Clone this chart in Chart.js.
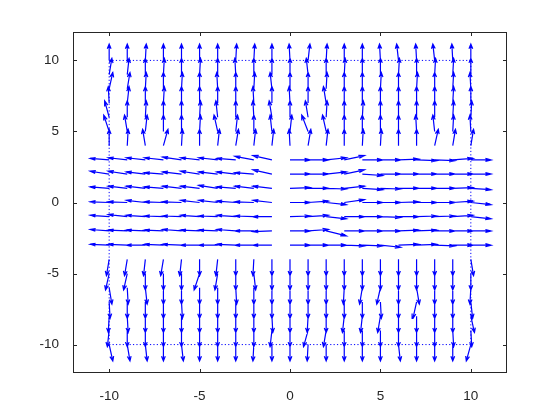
<!DOCTYPE html>
<html>
<head>
<meta charset="utf-8">
<script src="https://cdn.jsdelivr.net/npm/chart.js@4.4.1/dist/chart.umd.min.js"></script>
<style>
  html, body { margin: 0; padding: 0; background: #fff; }
  #wrap { width: 560px; height: 420px; }
</style>
</head>
<body>
<div id="wrap"><canvas id="quiver" width="560" height="420"></canvas></div>
<script>
// grid of arrow tails
const xs = [-10, -9, -8, -7, -6, -5, -4, -3, -2, -1, 0, 1, 2, 3, 4, 5, 6, 7, 8, 9, 10];
const ys = [10, 9, 8, 7, 6, 5, 4, 3, 2, 1, 0, -1, -2, -3, -4, -5, -6, -7, -8, -9, -10];

// x components, one row per y (top to bottom)
const U = [
  [0, 0, 0.05, 0, 0, 0, 0, 0.05, 0.05, 0, -0.05, 0.1, 0.05, 0, 0, -0.05, -0.1, -0.05, -0.1, -0.05, 0],
  [0.15, 0.1, 0, 0.05, 0, 0.05, 0, -0.05, 0, 0, 0, -0.1, 0, 0.05, 0, 0, 0.05, 0, 0.05, 0.05, 0],
  [0.2, 0.15, 0.05, 0, 0.05, 0, -0.05, 0, 0.05, -0.1, 0, 0, 0.05, 0, 0, 0.05, 0, 0.05, 0, 0.05, -0.05],
  [-0.05, 0.1, 0, 0.05, 0, 0, 0, 0, -0.05, 0, -0.05, 0, -0.15, 0, 0, 0, 0, 0, 0, 0.05, 0],
  [-0.25, 0, 0.05, 0, 0, 0.05, -0.1, 0, -0.05, -0.15, 0, -0.15, 0.05, 0, 0.05, 0, 0, 0, 0, 0.05, 0.05],
  [-0.3, -0.15, 0.1, 0, 0, 0.05, -0.2, 0.1, 0, -0.1, 0.1, -0.35, -0.2, 0, 0, 0, 0, -0.05, -0.1, 0.05, -0.05],
  [0, 0.05, -0.15, 0.25, 0.05, 0, 0.1, 0.15, 0.1, 0.1, -0.05, 0.15, 0.1, 0, 0.05, 0.05, 0, 0, 0.2, 0.15, 0.15],
  [-1.05, -1.05, -1.05, -1.05, -1.05, -1.05, -1.05, -1.05, -1.05, -1.05, 1.12, 1.12, 1.12, 1.12, 1.12, 1.12, 1.12, 1.12, 1.12, 1.12, 1.12],
  [-1.05, -1.05, -1.05, -1.05, -1.05, -1.05, -1.05, -1.05, -1.05, -1.05, 1.12, 1.12, 1.12, 1.12, 1.12, 1.12, 1.12, 1.12, 1.12, 1.12, 1.12],
  [-1.05, -1.05, -1.05, -1.05, -1.05, -1.05, -1.05, -1.05, -1.05, -1.05, 1.12, 1.12, 1.12, 1.12, 1.12, 1.12, 1.12, 1.12, 1.12, 1.12, 1.12],
  [-1.05, -1.05, -1.05, -1.05, -1.05, -1.05, -1.05, -1.05, -1.05, -1.05, 1.12, 1.12, 1.12, 1.12, 1.12, 1.12, 1.12, 1.12, 1.12, 1.12, 1.12],
  [-1.05, -1.05, -1.05, -1.05, -1.05, -1.05, -1.05, -1.05, -1.05, -1.05, 1.12, 1.12, 1.12, 1.12, 1.12, 1.12, 1.12, 1.12, 1.12, 1.12, 1.12],
  [-1.05, -1.05, -1.05, -1.05, -1.05, -1.05, -1.05, -1.05, -1.05, -1.05, 1.12, 1.12, 1.12, 1.12, 1.12, 1.12, 1.12, 1.12, 1.12, 1.12, 1.12],
  [-1.05, -1.05, -1.05, -1.05, -1.05, -1.05, -1.05, -1.05, -1.05, -1.05, 1.12, 1.12, 1.12, 1.12, 1.12, 1.12, 1.12, 1.12, 1.12, 1.12, 1.12],
  [-0.15, -0.15, -0.1, -0.15, -0.1, 0, -0.1, 0, -0.05, 0, 0, 0, 0, 0, 0, 0, 0, 0, 0, 0, 0.15],
  [-0.2, -0.2, 0, 0, 0, -0.3, -0.15, 0, 0.1, 0, 0, 0, 0, 0, 0, 0, 0, 0, 0, 0, 0],
  [0.15, 0.05, 0.1, 0, 0, 0, 0, 0.05, 0, 0, 0, 0, 0, -0.05, -0.15, -0.2, 0, 0.15, 0, 0, -0.05],
  [0.05, 0, 0, 0, 0.05, 0, 0, 0, 0, 0, 0, 0, 0, 0, 0, 0.05, 0, -0.2, 0, 0, 0.1],
  [-0.05, 0.05, 0, 0, 0, 0, 0, 0, 0, 0.05, 0, -0.05, 0, -0.1, -0.1, -0.15, 0, 0, 0, 0, 0.2],
  [-0.1, 0, 0, 0, 0, 0, 0, 0, 0, -0.1, 0, -0.25, -0.15, 0, 0, 0, 0, 0, 0, 0.05, 0.05],
  [0.2, 0.15, 0.1, 0, 0.1, 0, 0, 0, -0.05, 0, 0, -0.05, 0, 0, 0, 0, 0.1, 0, 0, 0, -0.25]
];

// y components, same layout
const V = [
  [1.15, 1.15, 1.15, 1.15, 1.15, 1.15, 1.15, 1.15, 1.15, 1.15, 1.15, 1.15, 1.15, 1.15, 1.15, 1.15, 1.15, 1.15, 1.15, 1.15, 1.15],
  [1.15, 1.15, 1.15, 1.15, 1.15, 1.15, 1.15, 1.15, 1.15, 1.15, 1.15, 1.15, 1.15, 1.15, 1.15, 1.15, 1.15, 1.15, 1.15, 1.15, 1.15],
  [1.15, 1.15, 1.15, 1.15, 1.15, 1.15, 1.15, 1.15, 1.15, 1.15, 1.15, 1.15, 1.15, 1.15, 1.15, 1.15, 1.15, 1.15, 1.15, 1.15, 1.15],
  [1.15, 1.15, 1.15, 1.15, 1.15, 1.15, 1.15, 1.15, 1.15, 1.15, 1.15, 1.15, 1.15, 1.15, 1.15, 1.15, 1.15, 1.15, 1.15, 1.15, 1.15],
  [1.15, 1.15, 1.15, 1.15, 1.15, 1.15, 1.15, 1.15, 1.15, 1.15, 1.15, 1.15, 1.15, 1.15, 1.15, 1.15, 1.15, 1.15, 1.15, 1.15, 1.15],
  [1.15, 1.15, 1.15, 1.15, 1.15, 1.15, 1.15, 1.15, 1.15, 1.15, 1.15, 1.15, 1.15, 1.15, 1.15, 1.15, 1.15, 1.15, 1.15, 1.15, 1.15],
  [1.15, 1.15, 1.15, 1.15, 1.15, 1.15, 1.15, 1.15, 1.15, 1.15, 1.15, 1.15, 1.15, 1.15, 1.15, 1.15, 1.15, 1.15, 1.15, 1.15, 1.15],
  [0.1, 0.15, 0.15, 0.15, 0.2, 0.15, 0.15, 0.1, 0.25, 0.3, 0, 0, 0.15, 0.3, 0, 0, 0.05, -0.05, -0.05, 0.1, 0],
  [0.2, 0.2, 0.15, 0.1, 0.15, 0.2, 0.15, 0.15, 0.1, 0.3, 0, 0, 0.15, 0.3, -0.1, 0, 0, 0, 0, 0, 0],
  [0.1, 0.15, 0.15, 0.1, 0.15, 0.15, 0.2, 0.1, 0.15, 0.15, 0.05, 0, -0.05, 0.15, -0.1, -0.05, 0, 0, 0, 0.05, -0.1],
  [0.05, 0.05, 0.15, 0.05, 0.05, 0.15, 0.15, 0.1, 0.05, 0.15, 0, 0.1, -0.15, 0.2, 0, 0, 0.05, 0, 0, 0.1, -0.15],
  [0.1, 0.15, 0.1, 0.05, 0.05, 0.1, 0.05, 0.1, 0.05, 0, 0.05, 0.1, -0.15, 0, 0, -0.05, 0, 0.05, 0.05, 0.1, -0.15],
  [0.1, 0.05, 0.05, 0.05, 0.1, 0.05, 0.05, 0.1, 0, -0.05, 0, 0.1, -0.35, 0, 0, 0, 0.05, 0.05, 0, 0, 0],
  [0.05, 0.05, 0, 0.05, 0.05, 0, 0, 0.05, 0, 0, 0, 0, 0, -0.05, -0.05, -0.15, 0.05, 0.05, -0.05, 0, 0],
  [-1.15, -1.15, -1.15, -1.15, -1.15, -1.15, -1.15, -1.15, -1.15, -1.15, -1.15, -1.15, -1.15, -1.15, -1.15, -1.15, -1.15, -1.15, -1.15, -1.15, -1.15],
  [-1.15, -1.15, -1.15, -1.15, -1.15, -1.15, -1.15, -1.15, -1.15, -1.15, -1.15, -1.15, -1.15, -1.15, -1.15, -1.15, -1.15, -1.15, -1.15, -1.15, -1.15],
  [-1.15, -1.15, -1.15, -1.15, -1.15, -1.15, -1.15, -1.15, -1.15, -1.15, -1.15, -1.15, -1.15, -1.15, -1.15, -1.15, -1.15, -1.15, -1.15, -1.15, -1.15],
  [-1.15, -1.15, -1.15, -1.15, -1.15, -1.15, -1.15, -1.15, -1.15, -1.15, -1.15, -1.15, -1.15, -1.15, -1.15, -1.15, -1.15, -1.15, -1.15, -1.15, -1.15],
  [-1.15, -1.15, -1.15, -1.15, -1.15, -1.15, -1.15, -1.15, -1.15, -1.15, -1.15, -1.15, -1.15, -1.15, -1.15, -1.15, -1.15, -1.15, -1.15, -1.15, -1.15],
  [-1.15, -1.15, -1.15, -1.15, -1.15, -1.15, -1.15, -1.15, -1.15, -1.15, -1.15, -1.15, -1.15, -1.15, -1.15, -1.15, -1.15, -1.15, -1.15, -1.15, -1.15],
  [-1.15, -1.15, -1.15, -1.15, -1.15, -1.15, -1.15, -1.15, -1.15, -1.15, -1.15, -1.15, -1.15, -1.15, -1.15, -1.15, -1.15, -1.15, -1.15, -1.15, -1.15]
];

const xTicks = [-10, -5, 0, 5, 10];
const yTicks = [-10, -5, 0, 5, 10];
const boxX = [-10, 10, 10, -10, -10];
const boxY = [-10, -10, 10, 10, -10];

// quiver: shaft + two head strokes per arrow, gaps between
const HEAD = 0.28, WING = 0.09;
const arrowPts = [];
const gap = {x: NaN, y: NaN};
ys.forEach((y, i) => {
  xs.forEach((x, j) => {
    const u = U[i][j], v = V[i][j];
    const xe = x + u, ye = y + v;
    const xt = x + u * (1 - HEAD), yt = y + v * (1 - HEAD);
    arrowPts.push({x: x, y: y}, {x: xe, y: ye}, gap);
    arrowPts.push({x: xt - v * WING, y: yt + u * WING}, {x: xe, y: ye},
                  {x: xt + v * WING, y: yt - u * WING}, gap);
  });
});

const boxPts = boxX.map((x, i) => ({x: x, y: boxY[i]}));

const axisColor = '#262626';
const tickFont = {family: 'Liberation Sans', size: 13.5};

// box and inward tick marks on all four sides
const frame = {
  id: 'frame',
  afterDatasetsDraw(chart) {
    const {ctx, chartArea: a, scales: {x, y}} = chart;
    ctx.save();
    ctx.strokeStyle = axisColor;
    ctx.lineWidth = 1;
    ctx.beginPath();
    xTicks.forEach(t => {
      const p = Math.round(x.getPixelForValue(t)) + 0.5;
      ctx.moveTo(p, a.bottom); ctx.lineTo(p, a.bottom - 4);
      ctx.moveTo(p, a.top); ctx.lineTo(p, a.top + 4);
    });
    yTicks.forEach(t => {
      const p = Math.round(y.getPixelForValue(t)) + 0.5;
      ctx.moveTo(a.left, p); ctx.lineTo(a.left + 4, p);
      ctx.moveTo(a.right, p); ctx.lineTo(a.right - 4, p);
    });
    ctx.stroke();
    ctx.strokeRect(Math.round(a.left) + 0.5, Math.round(a.top) + 0.5,
                   Math.round(a.width) - 1, Math.round(a.height) - 1);
    ctx.restore();
  }
};

new Chart(document.getElementById('quiver'), {
  type: 'scatter',
  data: {
    datasets: [
      {
        data: arrowPts,
        showLine: true,
        spanGaps: false,
        borderColor: 'rgb(0, 0, 255)',
        borderWidth: 1.2,
        pointRadius: 0,
        tension: 0,
        order: 0
      },
      {
        data: boxPts,
        showLine: true,
        borderColor: 'rgb(0, 0, 255)',
        borderWidth: 1,
        borderDash: [1.2, 2.2],
        pointRadius: 0,
        order: 1
      }
    ]
  },
  options: {
    responsive: false,
    animation: false,
    events: [],
    layout: {padding: {left: 0, top: 32, right: 53, bottom: 0}},
    plugins: {legend: {display: false}, tooltip: {enabled: false}},
    scales: {
      x: {
        type: 'linear', min: -12, max: 12,
        afterBuildTicks: s => { s.ticks = xTicks.map(v => ({value: v})); },
        afterFit: s => { s.height = 47; },
        grid: {display: false},
        border: {display: false},
        ticks: {color: axisColor, font: tickFont, padding: 7, maxRotation: 0}
      },
      y: {
        type: 'linear', min: -12, max: 12,
        afterBuildTicks: s => { s.ticks = yTicks.map(v => ({value: v})); },
        afterFit: s => { s.width = 73; },
        grid: {display: false},
        border: {display: false},
        ticks: {color: axisColor, font: tickFont, padding: 6}
      }
    }
  },
  plugins: [frame]
});
</script>
</body>
</html>
